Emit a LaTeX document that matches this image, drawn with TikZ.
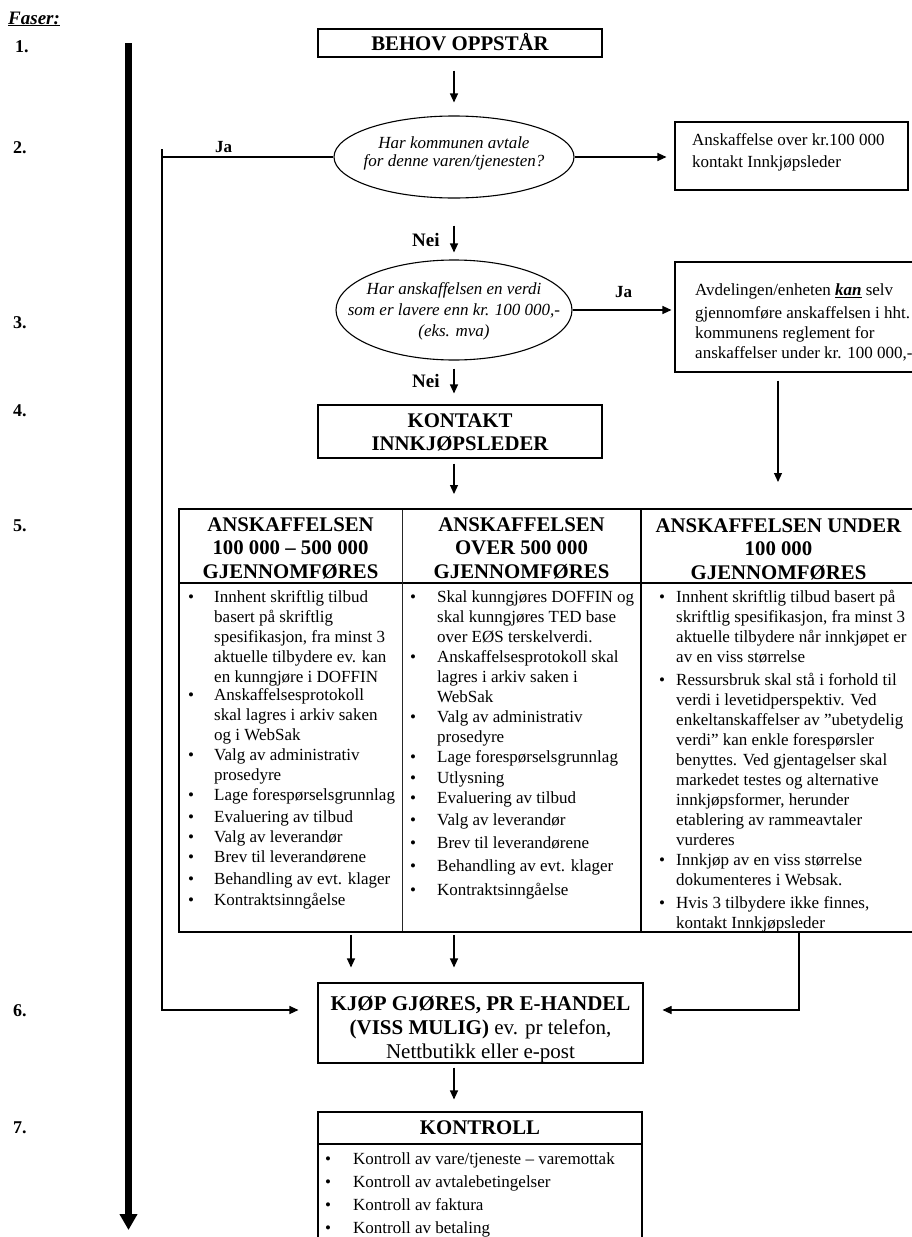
\documentclass[tikz,border=0pt]{standalone}
\usepackage{fontspec}
\setmainfont{Liberation Serif}
\usetikzlibrary{arrows.meta,shapes.geometric}
\newcommand{\ctop}[1]{\vtop{\halign{\hfil##\hfil\cr#1\crcr}}}
\newcommand{\ltop}[1]{\vtop{\halign{##\hfil\cr#1\crcr}}}
\newcommand{\bitm}[5]{%
  \node[bul] (#1b) at (#2,#4) {\textbullet};
  \node[body, anchor=base west] (#1) at (#3,#4) {\ltop{#5}};}
\begin{document}
\begin{tikzpicture}[x=1pt,y=-1pt,
  box/.style={draw, line width=1.1pt, inner sep=0pt},
  ln/.style={line width=1.1pt},
  arr/.style={line width=1.1pt, -{Triangle[width=8pt,length=9pt]}},
  body/.style={font=\fontsize{17}{20}\selectfont, inner sep=0pt},
  hd/.style={font=\fontsize{20.8}{23.5}\selectfont\bfseries, inner sep=0pt},
  bul/.style={font=\fontsize{17}{20}\selectfont, inner sep=0pt, anchor=base},
  num/.style={font=\fontsize{18}{20}\selectfont\bfseries, inner sep=0pt, anchor=base west},
  lab/.style={font=\fontsize{17}{20}\selectfont\bfseries, inner sep=0pt, anchor=base west},
  nei/.style={font=\fontsize{19}{20}\selectfont\bfseries, inner sep=0pt, anchor=base west},
  ell/.style={draw, ellipse, line width=1.1pt, inner sep=0pt},
  itx/.style={inner sep=0pt, anchor=base},
  blank/.style={inner sep=0pt, outer sep=0pt}
]
\useasboundingbox (0,0) rectangle (911,1237);
\fill[white] (0,0) rectangle (911,1237);

% phase labels
\node[font=\fontsize{19}{20}\selectfont\bfseries\itshape, inner sep=0pt, anchor=base west] (faser) at (8,24) {\underline{Faser:}};
\node[num] (n1) at (15,52) {1.};
\node[num] (n2) at (13,153) {2.};
\node[num] (n3) at (13,328) {3.};
\node[num] (n4) at (13,416) {4.};
\node[num] (n5) at (13,531) {5.};
\node[num] (n6) at (13,1016) {6.};
\node[num] (n7) at (13,1133) {7.};

% timeline
\coordinate (tlTop) at (128.5,43);
\coordinate (tlBot) at (128.5,1230);
\draw[line width=7pt, -{Triangle[width=17pt,length=16pt]}] (tlTop) -- (tlBot);

% step 1
\node[box, minimum width=284pt, minimum height=28pt] (behov) at (460,43) {};
\node[hd, anchor=base] (behovt) at (460,50) {BEHOV OPPSTÅR};

% step 2
\node[ell, minimum width=240pt, minimum height=82pt] (ell1) at (454,157) {};
\node[itx, font=\fontsize{17}{17.5}\selectfont\itshape] (ell1t) at (454,148.6) {\ctop{Har kommunen avtale\cr for denne varen/tjenesten?}};
\draw[arr, shorten <=13pt, shorten >=13pt] (ell1.north |- behov.south) -- (ell1.north);

\node[box, minimum width=233pt, minimum height=68pt] (box1) at (791.5,156) {};
\node[body, anchor=base west, font=\fontsize{17}{22}\selectfont] (box1t) at (692,145.6) {\ltop{Anskaffelse over kr.100 000\cr kontakt Innkjøpsleder}};
\draw[arr, shorten >=8pt] (ell1.east) -- (ell1.east -| box1.west);

\node[lab] (ja1) at (215,152) {Ja};
\coordinate (jaTop) at (162,149);
\coordinate (jaBot) at (162,1010);
\draw[ln] (ell1.west) -- (ell1.west -| jaTop);

% step 3
\node[ell, minimum width=236pt, minimum height=100pt] (ell2) at (454,310) {};
\node[itx, font=\fontsize{17}{21}\selectfont\itshape] (ell2t) at (454,294.6) {\ctop{Har anskaffelsen en verdi\cr som er lavere enn kr. 100 000,-\cr (eks. mva)}};
\node[nei] (nei1) at (412,246) {Nei};
\draw[arr, shorten <=27pt, shorten >=7pt] (ell1.south) -- (ell2.north);

\node[box, minimum width=255pt, minimum height=110pt] (box2) at (802.5,317) {};
\node[body, anchor=base west] (box2t) at (695,295.6) {\ltop{Avdelingen/enheten \textbf{\textit{\underline{kan}}} selv\cr\noalign{\vskip3pt}gjennomføre anskaffelsen i hht.\cr kommunens reglement for\cr anskaffelser under kr. 100 000,-}};
\node[lab] (ja2) at (615,297) {Ja};
\draw[arr, shorten >=3pt] (ell2.east) -- (ell2.east -| box2.west);

% step 4
\node[box, minimum width=284pt, minimum height=53pt] (kontakt) at (460,431.5) {};
\node[hd, font=\fontsize{20.8}{23}\selectfont\bfseries, anchor=base] (kontaktt) at (460,427) {\ctop{KONTAKT\cr INNKJØPSLEDER}};
\node[nei] (nei2) at (412,387) {Nei};
\draw[arr, shorten <=8pt, shorten >=11pt] (ell2.south) -- (ell2.south |- kontakt.north);

% step 5 table
\node[blank, minimum width=223pt, minimum height=423pt] (col1) at (290.5,720.5) {};
\node[blank, minimum width=239pt, minimum height=423pt] (col2) at (521.5,720.5) {};
\node[blank, minimum width=275pt, minimum height=423pt] (col3) at (778.5,720.5) {};
\coordinate (sepY) at (0,583);
\draw[line width=1.1pt] (col2.north east) -- (col3.north east);
\draw[line width=1.1pt] (col2.south east) -- (col3.south east);
\draw[line width=1.2pt] (col3.west |- sepY) -- (col3.east |- sepY);
\draw[line width=1.1pt] (col1.west |- sepY) -- (col2.east |- sepY);
\draw[line width=0.9pt, black!85] (col1.north east) -- (col1.south east);
\draw[line width=1.8pt] (col1.north west) rectangle (col2.south east);

\draw[arr, shorten <=5pt, shorten >=15pt] (ell2.south |- kontakt.south) -- (ell2.south |- col2.north);
\coordinate (rv) at (778,400);
\draw[arr, shorten <=8pt, shorten >=27pt] (box2.south -| rv) -- (rv |- col3.north);

\node[hd, anchor=base] (h1) at (290.5,531) {\ctop{ANSKAFFELSEN\cr 100 000 – 500 000\cr GJENNOMFØRES}};
\node[hd, anchor=base] (h2) at (521.5,531) {\ctop{ANSKAFFELSEN\cr OVER 500 000\cr GJENNOMFØRES}};
\node[hd, anchor=base] (h3) at (778.5,532) {\ctop{ANSKAFFELSEN UNDER\cr 100 000\cr GJENNOMFØRES}};

% left column
\bitm{l1}{191}{214}{602.6}{Innhent skriftlig tilbud\cr basert på skriftlig\cr spesifikasjon, fra minst 3\cr aktuelle tilbydere ev. kan\cr en kunngjøre i DOFFIN}
\bitm{l2}{191}{214}{700.6}{Anskaffelsesprotokoll\cr skal lagres i arkiv saken\cr og i WebSak}
\bitm{l3}{191}{214}{760.6}{Valg av administrativ\cr prosedyre}
\bitm{l4}{191}{214}{800.6}{Lage forespørselsgrunnlag}
\bitm{l5}{191}{214}{822.6}{Evaluering av tilbud}
\bitm{l6}{191}{214}{842.6}{Valg av leverandør}
\bitm{l7}{191}{214}{862.6}{Brev til leverandørene}
\bitm{l8}{191}{214}{884.6}{Behandling av evt. klager}
\bitm{l9}{191}{214}{905.6}{Kontraktsinngåelse}

% middle column
\bitm{m1}{413}{437}{602.6}{Skal kunngjøres DOFFIN og\cr skal kunngjøres TED base\cr over EØS terskelverdi.}
\bitm{m2}{413}{437}{662.6}{Anskaffelsesprotokoll skal\cr lagres i arkiv saken i\cr WebSak}
\bitm{m3}{413}{437}{722.6}{Valg av administrativ\cr prosedyre}
\bitm{m4}{413}{437}{762.6}{Lage forespørselsgrunnlag}
\bitm{m5}{413}{437}{783.6}{Utlysning}
\bitm{m6}{413}{437}{803.6}{Evaluering av tilbud}
\bitm{m7}{413}{437}{825.6}{Valg av leverandør}
\bitm{m8}{413}{437}{848.6}{Brev til leverandørene}
\bitm{m9}{413}{437}{871.6}{Behandling av evt. klager}
\bitm{m10}{413}{437}{895.6}{Kontraktsinngåelse}

% right column
\bitm{r1}{662}{676}{602.6}{Innhent skriftlig tilbud basert på\cr skriftlig spesifikasjon, fra minst 3\cr aktuelle tilbydere når innkjøpet er\cr av en viss størrelse}
\bitm{r2}{662}{676}{685.6}{Ressursbruk skal stå i forhold til\cr verdi i levetidperspektiv. Ved\cr enkeltanskaffelser av "ubetydelig\cr verdi" kan enkle forespørsler\cr benyttes. Ved gjentagelser skal\cr markedet testes og alternative\cr innkjøpsformer, herunder\cr etablering av rammeavtaler\cr vurderes}
\bitm{r3}{662}{676}{865.6}{Innkjøp av en viss størrelse\cr dokumenteres i Websak.}
\bitm{r4}{662}{676}{908.6}{Hvis 3 tilbydere ikke finnes,\cr kontakt Innkjøpsleder}

% step 6
\node[box, minimum width=325pt, minimum height=80pt] (kjop) at (480.5,1023) {};
\node[itx, font=\fontsize{21}{24}\selectfont] (kjopt) at (480.5,1010) {\ctop{\textbf{KJØP GJØRES, PR E-HANDEL}\cr \textbf{(VISS MULIG)} ev. pr telefon,\cr Nettbutikk eller e-post}};
\coordinate (a1) at (351,950);
\coordinate (a2) at (454,950);
\draw[arr, shorten <=3pt, shorten >=15pt] (a1 |- col1.south) -- (a1 |- kjop.north);
\draw[arr, shorten <=3pt, shorten >=15pt] (a2 |- col2.south) -- (a2 |- kjop.north);
\draw[arr, shorten >=19pt] (jaTop) -- (jaBot) -- (jaBot -| kjop.west);
\coordinate (rv2) at (799,1010);
\draw[arr, shorten >=19pt] (rv2 |- col3.south) -- (rv2) -- (rv2 -| kjop.east);

% step 7
\node[box, minimum width=324pt, minimum height=148pt] (kontroll) at (480,1186) {};
\coordinate (ksep) at (0,1144);
\draw[ln] (kontroll.west |- ksep) -- (kontroll.east |- ksep);
\node[hd, anchor=base] (kontrollt) at (480,1134) {KONTROLL};
\draw[arr, shorten <=4pt, shorten >=12pt] (a2 |- kjop.south) -- (a2 |- kontroll.north);
\bitm{k1}{328}{353}{1164.6}{Kontroll av vare/tjeneste – varemottak}
\bitm{k2}{328}{353}{1187.4}{Kontroll av avtalebetingelser}
\bitm{k3}{328}{353}{1210.2}{Kontroll av faktura}
\bitm{k4}{328}{353}{1233}{Kontroll av betaling}
\end{tikzpicture}
\end{document}
